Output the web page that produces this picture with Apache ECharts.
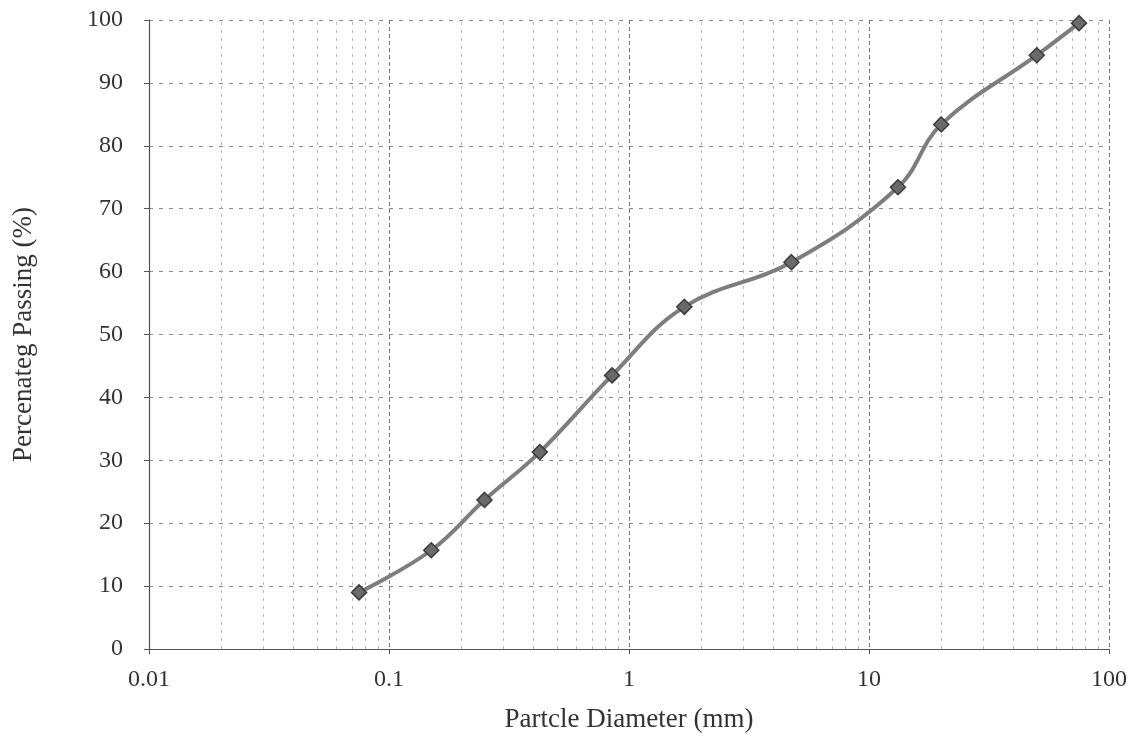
<!DOCTYPE html>
<html>
<head>
<meta charset="utf-8">
<script src="https://cdn.jsdelivr.net/npm/echarts@6/dist/echarts.min.js"></script>
<style>
  html, body { margin: 0; padding: 0; background: #fff; }
  #main { width: 1135px; height: 751px; }
</style>
</head>
<body>
<div id="main"></div>
<script>
// sieve sizes (mm) and percentage passing
var diameters = [0.075, 0.15, 0.25, 0.425, 0.85, 1.7, 4.75, 13.2, 20, 50, 75];
var passing = [9.0, 15.7, 23.7, 31.3, 43.5, 54.4, 61.5, 73.4, 83.4, 94.4, 99.5];

// minor log grid lines (2..9 in each decade)
var decades = [0.01, 0.1, 1, 10];
var multipliers = [2, 3, 4, 5, 6, 7, 8, 9];
var minorLines = [];
decades.forEach(function (d) {
  multipliers.forEach(function (m) {
    minorLines.push({ xAxis: +(d * m).toPrecision(3) });
  });
});

var points = diameters.map(function (d, i) { return [d, passing[i]]; });

var chart = echarts.init(document.getElementById('main'));
var font = '"Liberation Serif", "DejaVu Serif", serif';

chart.setOption({
  animation: false,
  backgroundColor: '#ffffff',
  grid: { left: 149, right: 26, top: 20, bottom: 102 },
  xAxis: {
    type: 'log',
    logBase: 10,
    min: 0.01,
    max: 100,
    name: 'Partcle Diameter (mm)',
    nameLocation: 'middle',
    nameGap: 57,
    nameTextStyle: { fontFamily: font, fontSize: 27, color: '#333' },
    axisLine: { show: true, onZero: false, lineStyle: { color: '#555', width: 1.2 } },
    axisTick: { show: true, length: 5, lineStyle: { color: '#555' } },
    axisLabel: {
      fontFamily: font, fontSize: 24, color: '#333', margin: 19,
      formatter: function (v) { return String(v); }
    },
    splitLine: { show: true, lineStyle: { color: '#777', type: [4, 3], width: 1 } }
  },
  yAxis: {
    type: 'value',
    min: 0,
    max: 100,
    interval: 10,
    name: 'Percenateg Passing (%)',
    nameLocation: 'middle',
    nameGap: 112,
    nameTextStyle: { fontFamily: font, fontSize: 27, color: '#333' },
    axisLine: { show: true, lineStyle: { color: '#555', width: 1.2 } },
    axisTick: { show: true, length: 5, lineStyle: { color: '#555' } },
    axisLabel: { fontFamily: font, fontSize: 24, color: '#333', margin: 26 },
    splitLine: { show: true, lineStyle: { color: '#8c8c8c', type: [4, 6], width: 1 } }
  },
  series: [{
    type: 'line',
    data: points,
    smooth: 0.4,
    symbol: 'diamond',
    symbolSize: 15,
    lineStyle: { color: '#7d7d7d', width: 4 },
    itemStyle: { color: '#6a6a6a', borderColor: '#3c3c3c', borderWidth: 1.5 },
    markLine: {
      silent: true,
      symbol: 'none',
      label: { show: false },
      lineStyle: { color: '#b8b8b8', type: [3, 5], width: 1 },
      data: minorLines
    },
    z: 5
  }]
});
</script>
</body>
</html>
